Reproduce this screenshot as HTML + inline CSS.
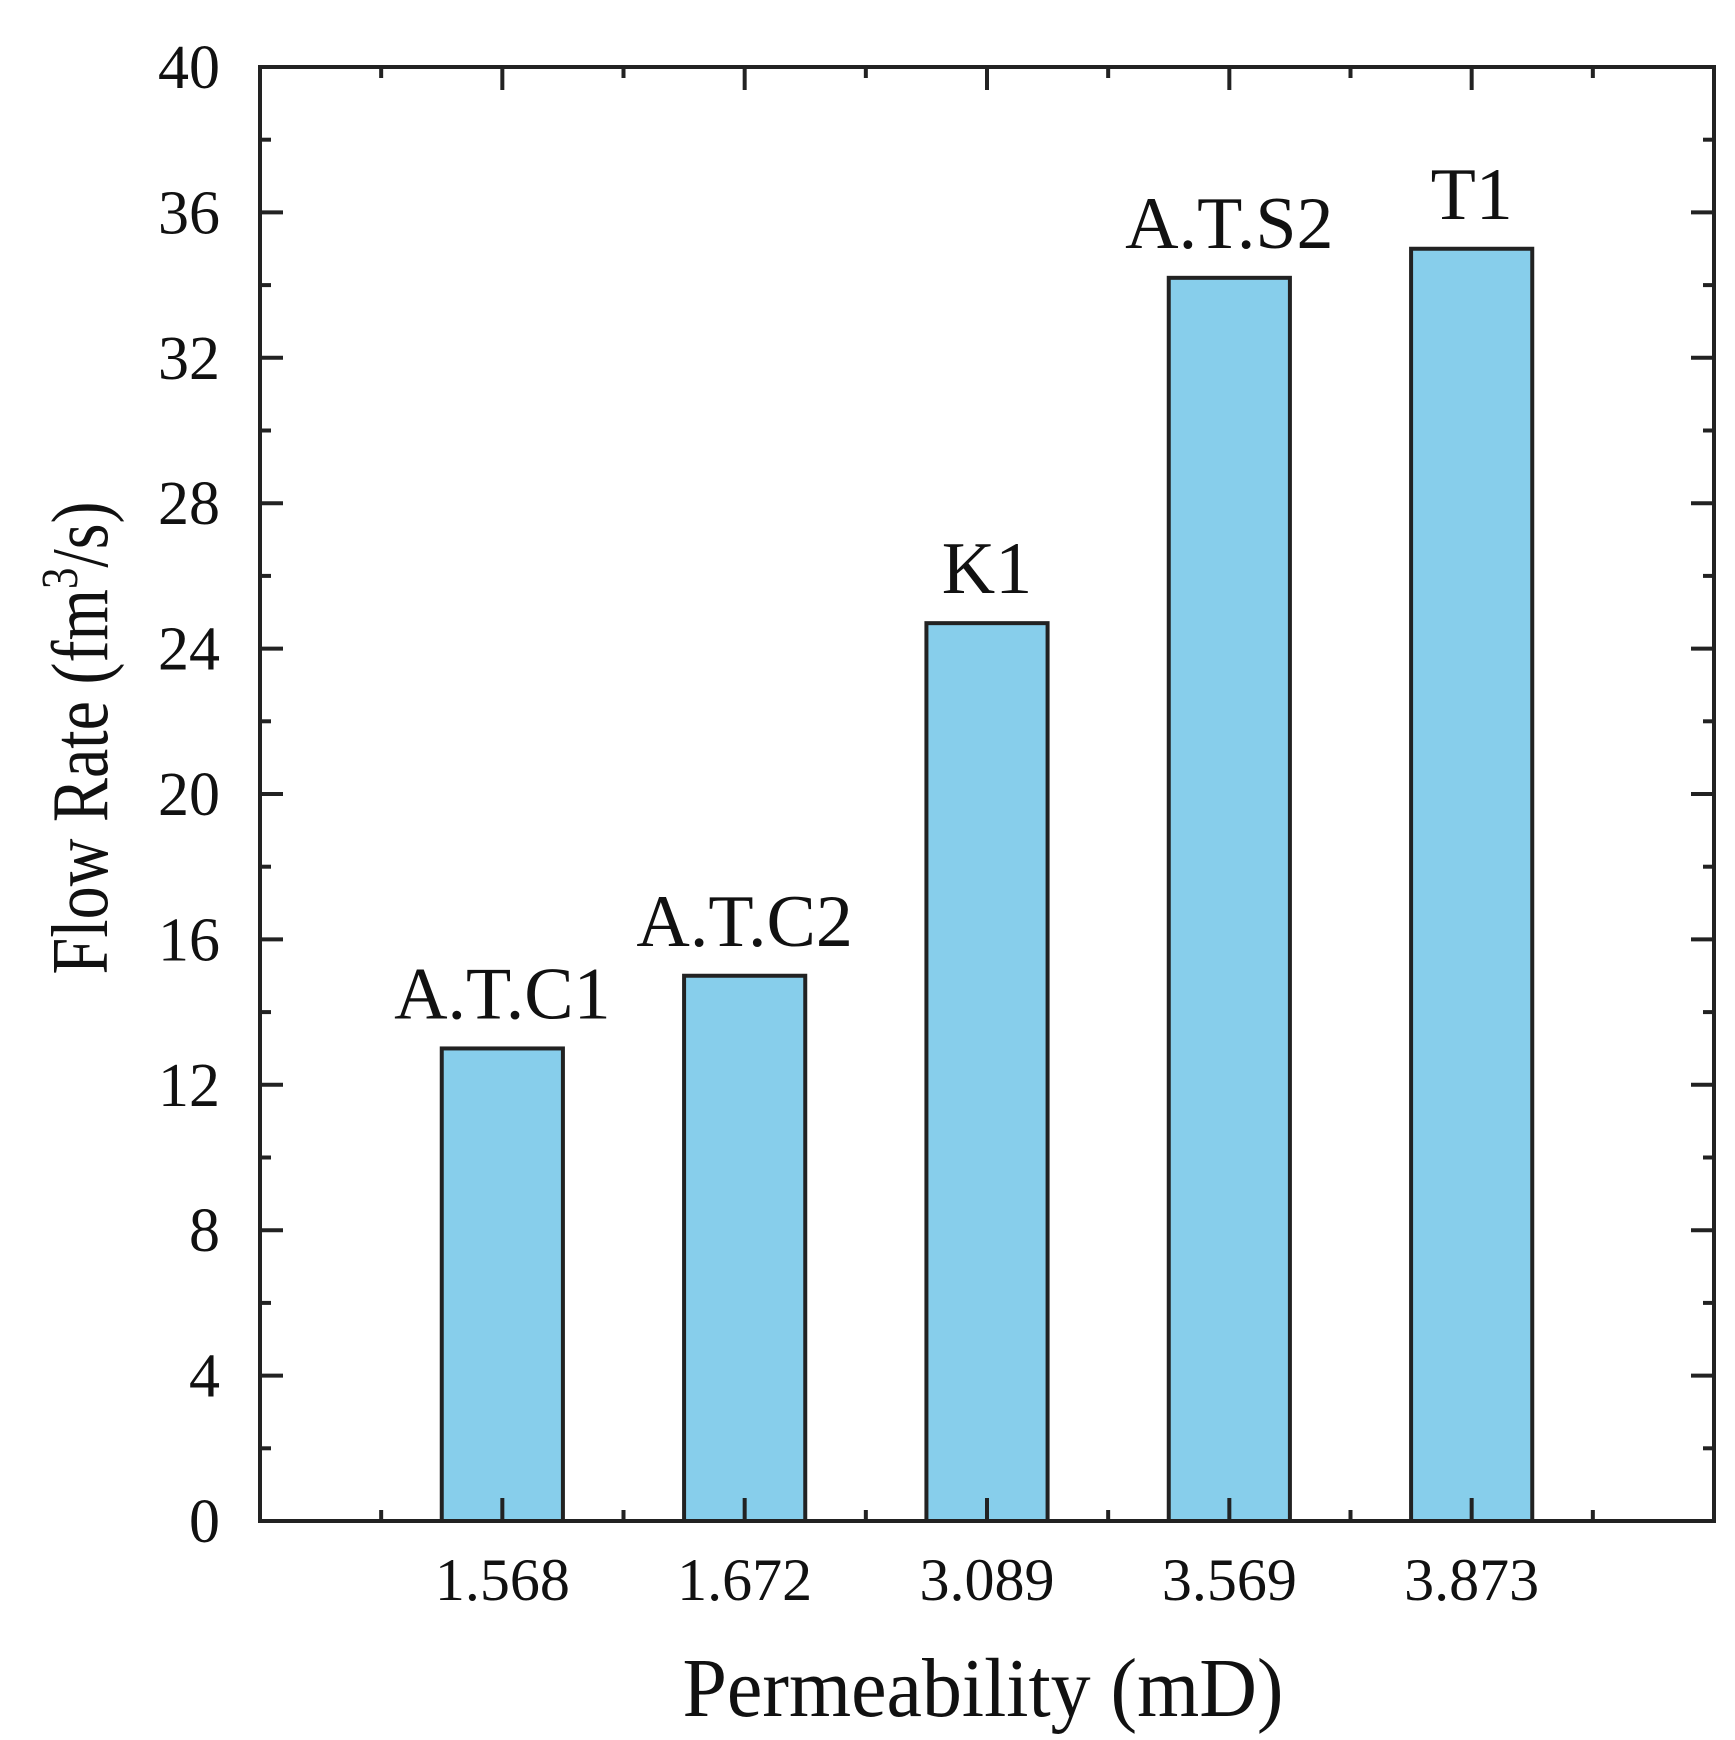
<!DOCTYPE html>
<html><head><meta charset="utf-8"><style>
html,body{margin:0;padding:0;background:#fff;}
svg text{font-family:"Liberation Serif",serif;fill:#111;}
</style></head><body>
<svg id="chart" width="1735" height="1735" viewBox="0 0 1735 1735" xmlns="http://www.w3.org/2000/svg">
<g id="bars"></g>
<g id="axes"></g>
<text x="983" y="1716" font-size="84" text-anchor="middle" textLength="601" lengthAdjust="spacingAndGlyphs">Permeability (mD)</text>
<text transform="translate(107,738) rotate(-90)" font-size="80" text-anchor="middle" textLength="473" lengthAdjust="spacingAndGlyphs">Flow Rate (fm<tspan dy="-30" font-size="52">3</tspan><tspan dy="30">/s)</tspan></text>
</svg>
<script>
const categories = ["1.568","1.672","3.089","3.569","3.873"];
const barLabels = ["A.T.C1","A.T.C2","K1","A.T.S2","T1"];
const flowRates = [13.0, 15.0, 24.7, 34.2, 35.0];
const yTicks = [0,4,8,12,16,20,24,28,32,36,40];

const L=260, R=1714, T=67, B=1521;
const yMin=0, yMax=40, xMin=0, xMax=6;
const NS="http://www.w3.org/2000/svg";
function sy(v){return B-(v-yMin)/(yMax-yMin)*(B-T);}
function sx(i){return L+(i-xMin)/(xMax-xMin)*(R-L);}
function mk(tag,attrs,parent){const e=document.createElementNS(NS,tag);for(const k in attrs)e.setAttribute(k,attrs[k]);parent.appendChild(e);return e;}
const bars=document.getElementById('bars'), axes=document.getElementById('axes');
const bw=(R-L)/(xMax-xMin)*0.5;
flowRates.forEach((v,i)=>{
  const cx=sx(i+1);
  const r=mk('rect',{x:cx-bw/2,y:sy(v),width:bw,height:sy(0)-sy(v),fill:'#87CEEB',stroke:'#222','stroke-width':4},bars);
  
  
  const t=mk('text',{x:cx,y:sy(v)-30,'font-size':74,'text-anchor':'middle'},bars);
  t.textContent=barLabels[i];
  
  
  const xl=mk('text',{x:cx,y:1600,'font-size':60,'text-anchor':'middle'},axes);
  xl.textContent=categories[i];
  
  
});
const fr=mk('rect',{x:L,y:T,width:R-L,height:B-T,fill:'none',stroke:'#222','stroke-width':4},axes);


yTicks.forEach(v=>{
  const y=sy(v);
  mk('line',{x1:L,x2:L+23,y1:y,y2:y,stroke:'#222','stroke-width':4},axes);
  mk('line',{x1:R,x2:R-23,y1:y,y2:y,stroke:'#222','stroke-width':4},axes);
  const t=mk('text',{x:220,y:y+21,'font-size':62,'text-anchor':'end'},axes);
  t.textContent=v;
  
  
  if(v<yMax){const m=sy(v+2);
    mk('line',{x1:L,x2:L+11,y1:m,y2:m,stroke:'#222','stroke-width':4},axes);
    mk('line',{x1:R,x2:R-11,y1:m,y2:m,stroke:'#222','stroke-width':4},axes);}
});
for(let i=1;i<=5;i++){const x=sx(i);
  mk('line',{x1:x,x2:x,y1:B,y2:B-23,stroke:'#222','stroke-width':4},axes);
  mk('line',{x1:x,x2:x,y1:T,y2:T+23,stroke:'#222','stroke-width':4},axes);}
for(let i=0;i<6;i++){const x=sx(i+0.5);
  mk('line',{x1:x,x2:x,y1:B,y2:B-11,stroke:'#222','stroke-width':4},axes);
  mk('line',{x1:x,x2:x,y1:T,y2:T+11,stroke:'#222','stroke-width':4},axes);}
</script>
</body></html>
